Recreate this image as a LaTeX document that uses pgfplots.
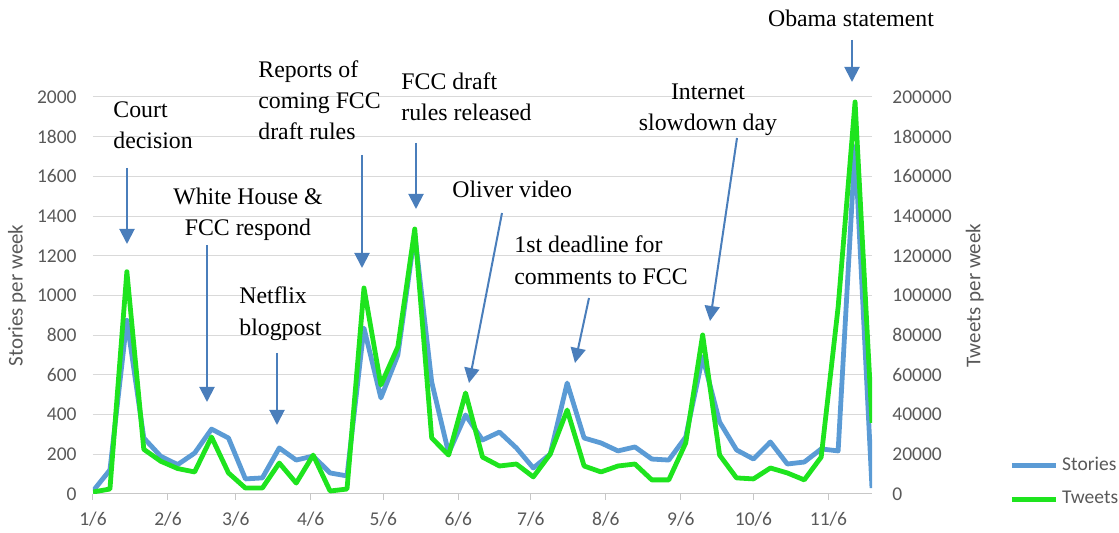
\documentclass[border=0pt]{standalone}
\usepackage{pgfplots}
\pgfplotsset{compat=1.18}
\usepackage{pgfplotstable}
\usepackage{fontspec}
\setmainfont{Liberation Serif}
\newfontfamily\calibri{Carlito}
\usetikzlibrary{arrows.meta}

\definecolor{stories}{RGB}{91,155,213}
\definecolor{tweets}{RGB}{30,228,30}
\definecolor{arrowblue}{RGB}{74,126,187}
\definecolor{gridgray}{RGB}{217,217,217}
\definecolor{labelgray}{RGB}{89,89,89}

% day 0 = 1/6 (weekly points)
\pgfplotstableread{
day stories
0   15
7   121
14  875
21  282
28  190
35  148
42  206
49  327
56  282
63  76
70  81
77  232
84  171
91  191
98  106
105 91
112 836
119 484
126 700
133 1310
140 564
147 206
154 398
161 272
168 312
175 232
182 131
189 201
196 559
203 282
210 257
217 217
224 237
231 176
238 171
245 287
252 690
259 363
266 222
273 176
280 262
287 151
294 161
301 227
308 217
315 1750
322 30
}\storiesdata

\pgfplotstableread{
day tweets
0   1000
7   2500
14  112000
21  22500
28  16500
35  12800
42  11100
49  28700
56  10600
63  3000
70  3000
77  15600
84  5500
91  19600
98  1500
105 2500
112 103800
119 54900
126 74100
133 133500
140 28200
147 19600
154 50900
161 18600
168 14100
175 15100
182 8600
189 20100
196 42300
203 14100
210 11100
217 14100
224 15100
231 7100
238 7100
245 25700
252 80100
259 19600
266 8100
273 7600
280 13100
287 10600
294 7100
301 18600
308 94200
315 197500
322 35800
}\tweetsdata

\pgfplotsset{
  excel/.style={
    at={(46.5pt,19.5pt)}, anchor=south west,
    scale only axis, width=389.5pt, height=198.5pt,
    xmin=0, xmax=322,
    tick label style={font=\calibri\fontsize{9.75}{11}\selectfont, text=labelgray,
      /pgf/number format/assume math mode=true},
    label style={font=\calibri\fontsize{10.5}{12}\selectfont, text=labelgray},
    ytick style={draw=none},
    ymajorgrids, grid style={gridgray, line width=0.5pt},
  }
}

\begin{document}
\begin{tikzpicture}
\useasboundingbox (0,0) rectangle (559.5pt,266.5pt);

\begin{axis}[excel,
  ymin=0, ymax=2000,
  ytick={0,200,...,2000},
  axis x line*=bottom, axis y line*=left,
  y axis line style={draw=none},
  x axis line style={draw=gridgray!80!gray, line width=0.5pt},
  xtick={0,31,59,90,120,151,181,212,243,273,304},
  xticklabels={1/6,2/6,3/6,4/6,5/6,6/6,7/6,8/6,9/6,10/6,11/6},
  xtick style={draw=gridgray!80!gray, line width=0.5pt},
  tick align=outside, major tick length=3pt,
  yticklabel style={/pgf/number format/1000 sep={},
    anchor=east, inner sep=0pt, xshift=-5pt},
  xticklabel style={anchor=north, inner sep=0pt, yshift=-6pt},
  ylabel={Stories per week},
  ylabel style={at={(axis description cs:-0.0976,0.5)}, anchor=center},
]
\addplot[stories, line width=2.4pt, line join=round] table[x=day, y=stories] {\storiesdata};
\end{axis}

\begin{axis}[excel,
  ymin=0, ymax=200000,
  ytick={0,20000,...,200000},
  scaled y ticks=false,
  yticklabel style={/pgf/number format/fixed, /pgf/number format/1000 sep={},
    anchor=west, inner sep=0pt, xshift=10pt},
  axis x line=none, axis y line*=right,
  y axis line style={draw=none},
  ymajorgrids=false,
  ylabel={Tweets per week},
  ylabel style={at={(axis description cs:1.132,0.5)}, anchor=center},
  legend style={at={(axis description cs:1.1759,0.0302)}, anchor=west,
    draw=none, fill=none, inner sep=0pt, row sep=5pt,
    font=\calibri\fontsize{9.75}{11}\selectfont, text=labelgray},
  legend cell align=left,
  legend image code/.code={\draw[#1] (0pt,0pt) -- (22pt,0pt);},
]
\addlegendimage{stories, line width=2.4pt}
\addlegendentry{Stories}
\addplot[tweets, line width=2.4pt, line join=round] table[x=day, y=tweets] {\tweetsdata};
\addlegendentry{Tweets}
\end{axis}

% annotations in pixel coordinates of the 1119x533 frame
\begin{scope}[x=0.5pt, y=-0.5pt, shift={(0pt,266.5pt)},
  every node/.style={font=\fontsize{11.9}{15.5}\selectfont, inner sep=0pt},
  arr/.style={arrowblue, line width=1pt, -{Triangle[width=7.5pt,length=7.5pt]}}]
\node[anchor=base west] at (113,118) {Court};
\node[anchor=base west] at (113,149) {decision};
\draw[arr] (127,168) -- (127,244);

\node[anchor=base] at (248,205) {White House \&};
\node[anchor=base] at (248,236) {FCC respond};
\draw[arr] (207,245) -- (207,402);

\node[anchor=base west] at (239,304) {Netflix};
\node[anchor=base west] at (239,336) {blogpost};
\draw[arr] (277,353) -- (277,425);

\node[anchor=base west] at (258,78) {Reports of};
\node[anchor=base west] at (258,109) {coming FCC};
\node[anchor=base west] at (258,140) {draft rules};
\draw[arr] (362,155) -- (362,268);

\node[anchor=base west] at (401,90) {FCC draft};
\node[anchor=base west] at (401,121) {rules released};
\draw[arr] (416,143) -- (416,209);

\node[anchor=base west] at (452,198) {Oliver video};
\draw[arr] (502,213) -- (469,383);

\node[anchor=base west] at (514,253) {1st deadline for};
\node[anchor=base west] at (514,285) {comments to FCC};
\draw[arr] (589,298) -- (575,363);

\node[anchor=base] at (708,100) {Internet};
\node[anchor=base] at (708,131) {slowdown day};
\draw[arr] (737,138) -- (710,321);

\node[anchor=base] at (851,27) {Obama statement};
\draw[arr] (852,40) -- (852,82);
\end{scope}
\end{tikzpicture}
\end{document}
